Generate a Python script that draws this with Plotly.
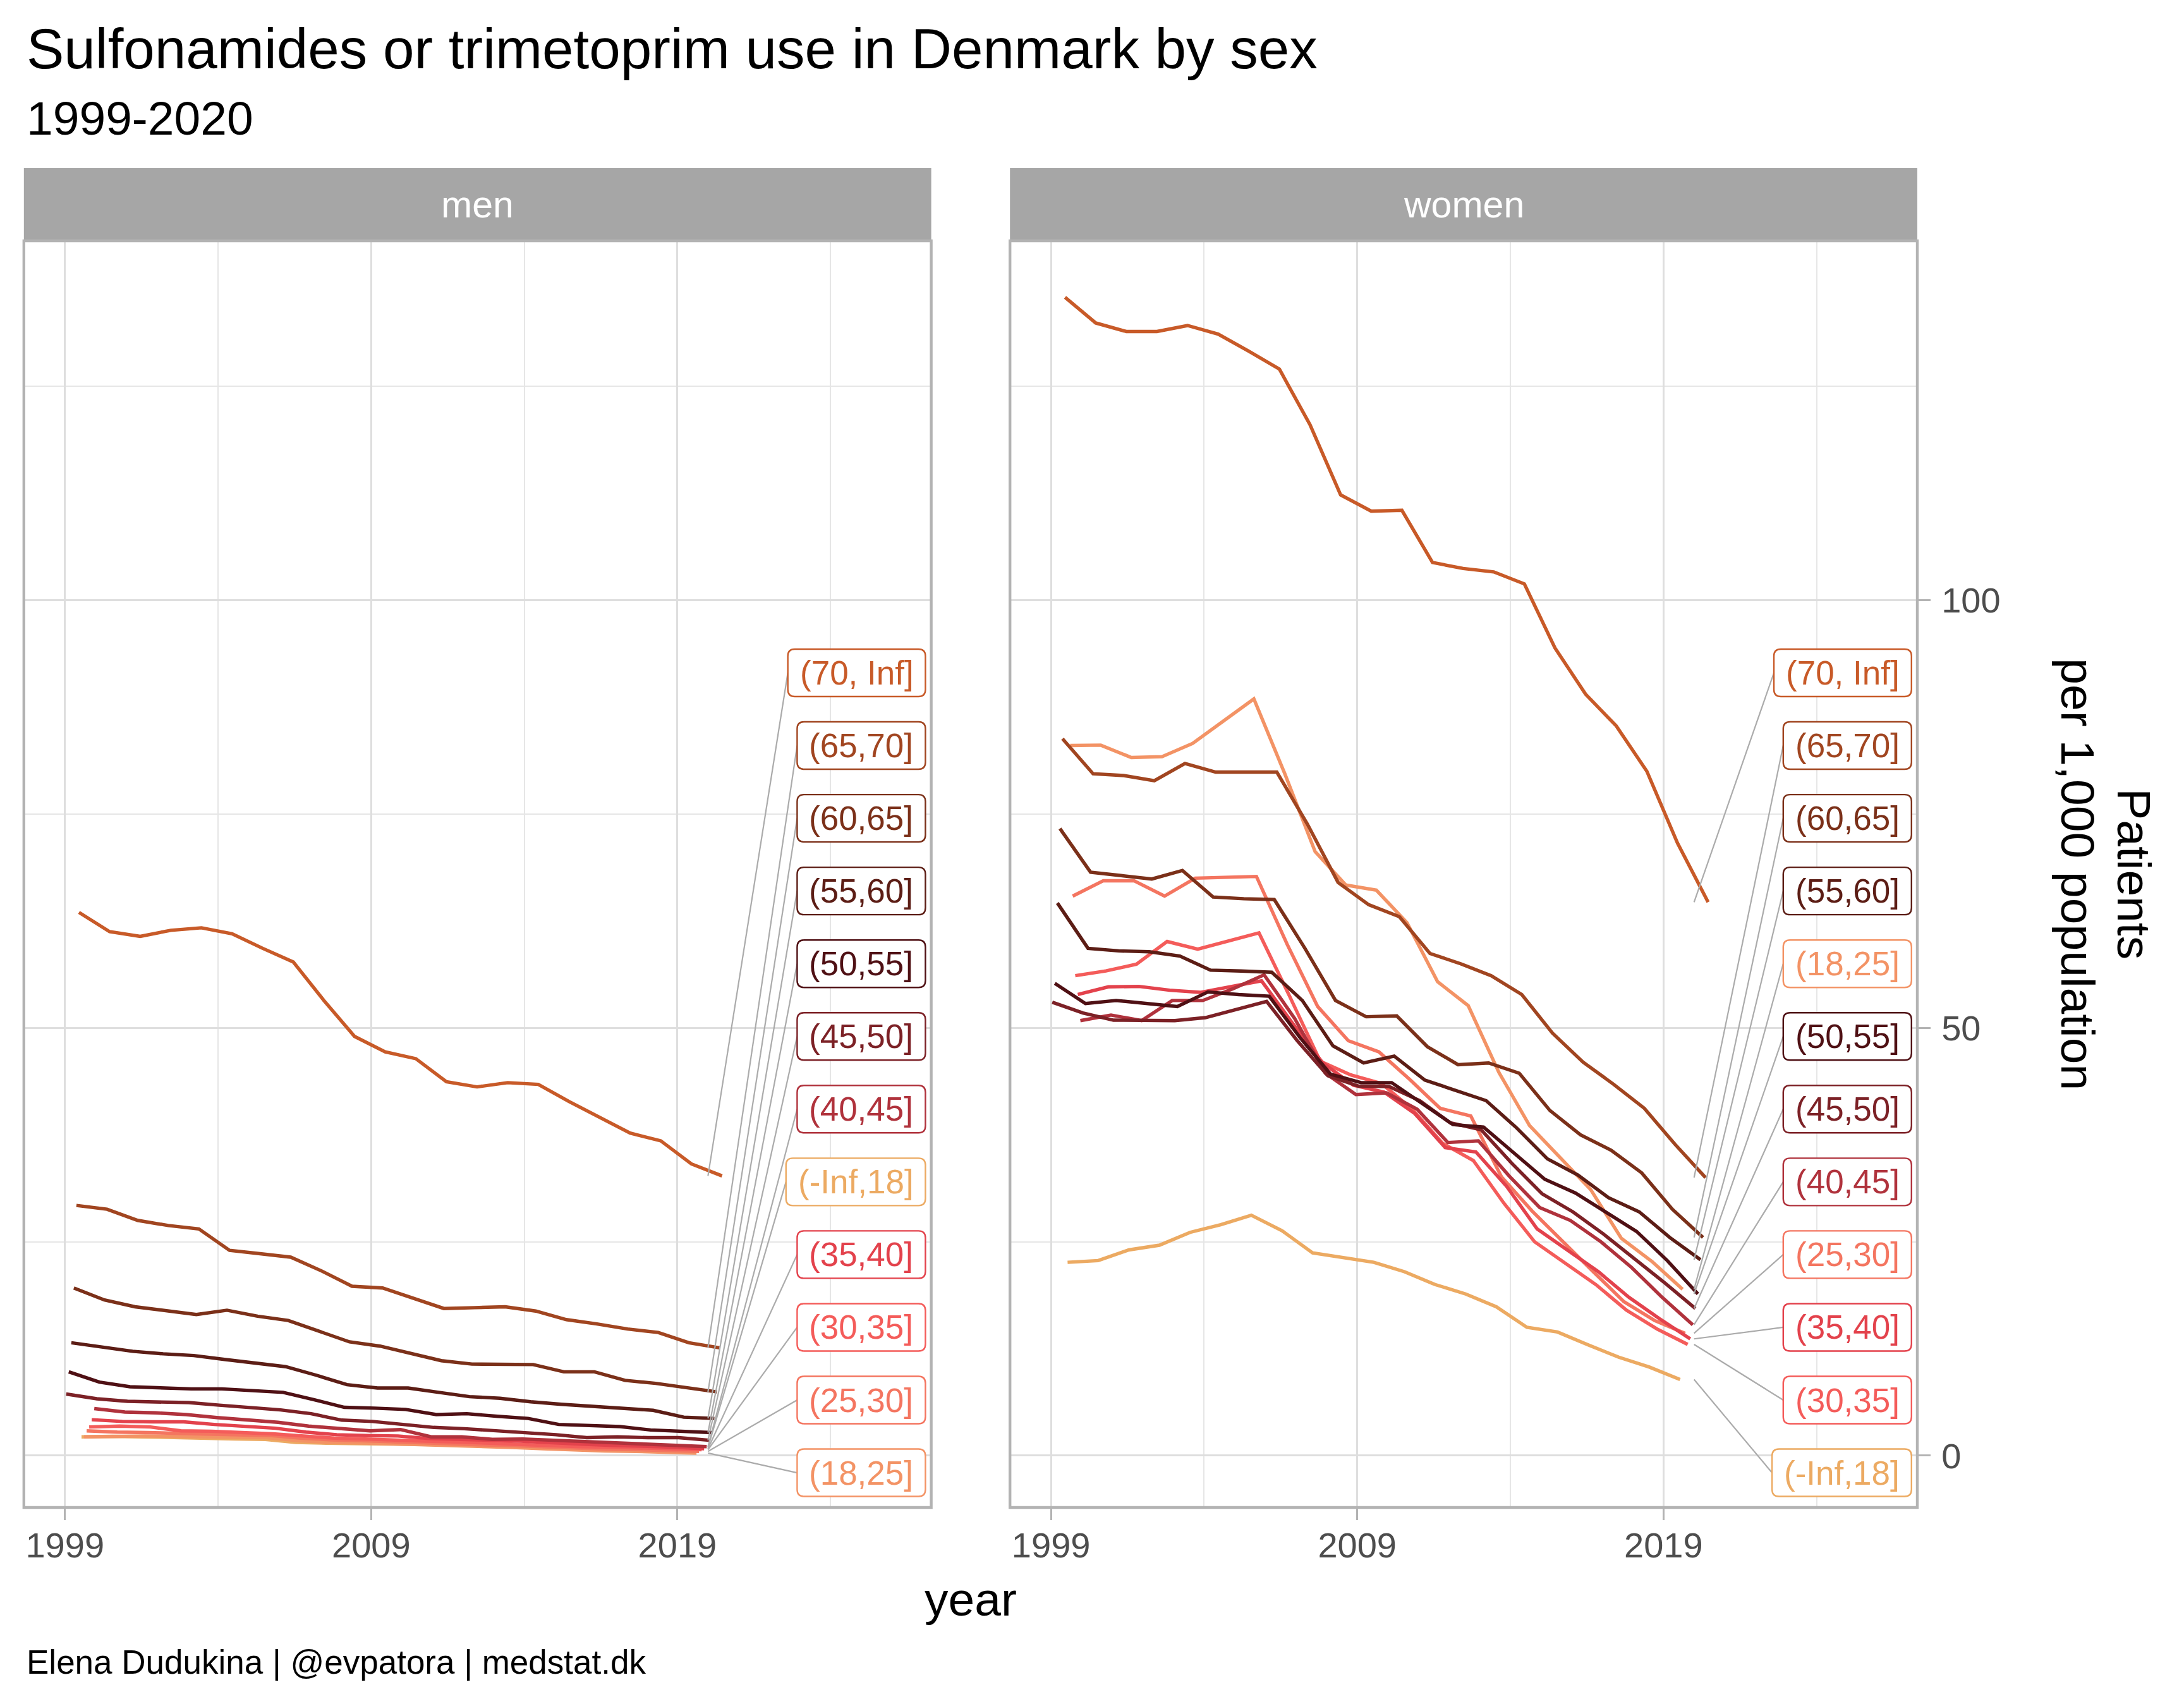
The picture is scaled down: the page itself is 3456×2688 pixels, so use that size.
import plotly.graph_objects as go

W, H = 3456, 2688

groups = ["(-Inf,18]", "(18,25]", "(25,30]", "(30,35]", "(35,40]", "(40,45]",
          "(45,50]", "(50,55]", "(55,60]", "(60,65]", "(65,70]", "(70, Inf]"]
colors = ["#ECAA62", "#F39365", "#F47560", "#F45C5A", "#E3424C", "#B0323C",
          "#7C2126", "#4F1014", "#5C1D15", "#7B3019", "#A14520", "#C85A28"]

years_all = list(range(1999, 2021))    # groups 45+
years_young = list(range(2000, 2021))  # groups under 45

men = {
    "(-Inf,18]": [2.2, 2.25, 2.2, 2.1, 2.0, 1.95, 1.9, 1.55, 1.45, 1.4, 1.35, 1.3, 1.25, 1.2, 1.15, 1.1, 1.05, 1.0, 1.0, 0.95, 0.95],
    "(18,25]": [2.2, 2.3, 2.3, 2.25, 2.2, 2.15, 2.1, 1.75, 1.55, 1.5, 1.4, 1.3, 1.2, 1.05, 0.95, 0.8, 0.65, 0.55, 0.5, 0.4, 0.3],
    "(25,30]": [2.9, 2.75, 2.7, 2.6, 2.55, 2.45, 2.35, 2.05, 1.85, 1.75, 1.6, 1.5, 1.4, 1.25, 1.15, 1.0, 0.85, 0.75, 0.7, 0.6, 0.5],
    "(30,35]": [3.35, 3.45, 3.35, 2.9, 2.85, 2.7, 2.55, 2.3, 2.05, 1.95, 1.8, 1.7, 1.6, 1.45, 1.35, 1.2, 1.05, 1.0, 0.9, 0.8, 0.7],
    "(35,40]": [4.2, 4.0, 3.95, 3.95, 3.65, 3.4, 3.2, 2.75, 2.45, 2.35, 2.3, 2.0, 1.95, 1.8, 1.7, 1.5, 1.35, 1.2, 1.1, 1.0, 0.8],
    "(40,45]": [5.5, 5.1, 5.0, 4.8, 4.45, 4.2, 3.9, 3.45, 3.15, 2.9, 3.05, 2.2, 2.2, 1.9, 1.95, 1.8, 1.65, 1.5, 1.4, 1.25, 1.05],
    "(45,50]": [7.2, 6.65, 6.35, 6.25, 6.2, 5.9, 5.6, 5.35, 4.9, 4.15, 4.0, 3.7, 3.3, 3.15, 2.95, 2.75, 2.45, 2.1, 2.2, 2.1, 2.1, 1.8],
    "(50,55]": [9.8, 8.6, 8.05, 7.9, 7.8, 7.8, 7.6, 7.4, 6.55, 5.65, 5.55, 5.4, 4.8, 4.9, 4.6, 4.35, 3.65, 3.5, 3.4, 3.0, 2.85, 2.7],
    "(55,60]": [13.2, 12.7, 12.2, 11.9, 11.7, 11.25, 10.8, 10.4, 9.4, 8.3, 7.9, 7.9, 7.4, 6.9, 6.7, 6.3, 6.0, 5.75, 5.6, 5.3, 4.5, 4.35],
    "(60,65]": [19.6, 18.2, 17.4, 16.9, 16.5, 17.0, 16.3, 15.8, 14.6, 13.3, 12.8, 11.9, 11.1, 10.7, 10.65, 10.65, 9.8, 9.8, 8.8, 8.45, 7.95, 7.45],
    "(65,70]": [29.25, 28.8, 27.5, 26.9, 26.5, 24.0, 23.6, 23.2, 21.6, 19.8, 19.6, 18.4, 17.2, 17.3, 17.4, 16.9, 15.9, 15.4, 14.8, 14.4, 13.2, 12.6],
    "(70, Inf]": [63.5, 61.25, 60.7, 61.4, 61.7, 61.0, 59.3, 57.7, 53.2, 49.0, 47.2, 46.4, 43.7, 43.1, 43.6, 43.4, 41.4, 39.5, 37.7, 36.8, 34.1, 32.7],
}

women = {
    "(-Inf,18]": [22.6, 22.8, 24.05, 24.6, 26.1, 27.0, 28.1, 26.3, 23.7, 23.2, 22.6, 21.5, 20.0, 18.9, 17.4, 15.0, 14.45, 12.95, 11.5, 10.35, 8.9],
    "(18,25]": [83.0, 83.05, 81.6, 81.7, 83.25, 85.9, 88.45, 79.8, 70.6, 66.7, 66.1, 62.3, 55.4, 52.6, 44.8, 38.6, 34.9, 31.1, 25.4, 22.7, 19.45],
    "(25,30]": [65.4, 67.2, 67.2, 65.4, 67.5, 67.6, 67.7, 59.8, 52.5, 48.5, 47.2, 44.0, 40.6, 39.7, 32.6, 28.6, 25.0, 21.5, 18.0, 15.8, 14.3],
    "(30,35]": [56.1, 56.65, 57.45, 60.1, 59.2, 60.1, 61.1, 53.7, 46.1, 44.5, 43.5, 40.5, 36.5, 34.5, 29.5, 25.0, 22.5, 20.0, 17.0, 14.8, 13.0],
    "(35,40]": [53.9, 54.8, 54.85, 54.4, 54.15, 54.85, 55.5, 50.6, 45.9, 43.3, 42.5, 40.0, 36.0, 35.5, 31.5, 26.5, 24.0, 21.5, 18.5, 16.0, 13.65],
    "(40,45]": [50.85, 51.5, 50.85, 53.2, 53.2, 54.6, 56.2, 51.1, 44.7, 42.2, 42.4, 40.5, 36.6, 36.8, 32.7, 29.0, 27.5, 25.0, 22.0, 18.5, 15.3],
    "(45,50]": [53.0, 51.75, 50.9, 50.9, 50.85, 51.2, 52.1, 53.1, 48.5, 44.4, 43.2, 43.15, 41.5, 38.9, 38.1, 34.2, 30.6, 28.5, 25.9, 23.1, 20.2, 17.2],
    "(50,55]": [55.2, 52.85, 53.2, 52.8, 52.5, 54.2, 53.9, 53.7, 48.9, 44.6, 43.6, 43.6, 41.2, 38.7, 38.4, 35.3, 32.3, 30.7, 28.5, 26.2, 22.8, 18.9],
    "(55,60]": [64.6, 59.3, 59.0, 58.9, 58.4, 56.75, 56.65, 56.5, 53.2, 47.9, 45.9, 46.7, 43.9, 42.7, 41.5, 38.3, 34.7, 32.8, 30.15, 28.5, 25.5, 22.9],
    "(60,65]": [73.3, 68.2, 67.8, 67.4, 68.4, 65.3, 65.1, 65.0, 59.3, 53.2, 51.3, 51.4, 47.8, 45.7, 45.9, 44.7, 40.35, 37.5, 35.7, 33.05, 28.8, 25.5],
    "(65,70]": [83.8, 79.7, 79.5, 78.9, 80.9, 79.9, 79.9, 79.9, 73.8, 67.0, 64.4, 63.0, 58.7, 57.5, 56.1, 53.9, 49.4, 46.0, 43.4, 40.6, 36.4, 32.5],
    "(70, Inf]": [135.4, 132.4, 131.4, 131.4, 132.1, 131.1, 129.1, 127.0, 120.5, 112.3, 110.4, 110.5, 104.4, 103.7, 103.3, 101.9, 94.4, 89.0, 85.3, 80.0, 71.6, 64.7],
}

panels = [("men", men), ("women", women)]
x_major = [1999, 2009, 2019]
x_minor = [2004, 2014, 2024]
y_major = [0, 50, 100]
y_minor = [25, 75, 125]

title = "Sulfonamides or trimetoprim use in Denmark by sex"
subtitle = "1999-2020"
caption = "Elena Dudukina | @evpatora | medstat.dk"
x_title = "year"
y_title_lines = ["Patients", "per 1,000 population"]

# ---------------- layout geometry ----------------
FONT = "Liberation Sans, Arial, Helvetica, sans-serif"
x_dom = [[0.01094, 0.42639], [0.46244, 0.87789]]
y_dom = [0.11272, 0.85826]
strip_top = 0.9010
x_range = [1997.66, 2027.29]
y_range = [-6.06, 142.0]
px_per_year = (x_dom[0][1] - x_dom[0][0]) * W / (x_range[1] - x_range[0])
px_per_unit = (y_dom[1] - y_dom[0]) * H / (y_range[1] - y_range[0])
n_groups = len(groups)

LABEL_FONT = 53
label_x_right = 2027.1
label_top, label_step = 91.5, 8.5
label_end_year = 2020
BOX_H = 75.0
BOX_R = 11.0

char_w = {"(": .333, ")": .333, "[": .278, "]": .278, ",": .278, " ": .278,
          "-": .333, "I": .278, "n": .556, "f": .278}


def text_width(s):
    return sum(char_w.get(c, .556) for c in s) * LABEL_FONT


def rounded_box(x0, x1, yc):
    """SVG path of a rounded rectangle in data coordinates."""
    rx = BOX_R / px_per_year
    ry = BOX_R / px_per_unit
    y0 = yc - BOX_H / 2 / px_per_unit
    y1 = yc + BOX_H / 2 / px_per_unit
    return (f"M {x0 + rx},{y0} L {x1 - rx},{y0} Q {x1},{y0} {x1},{y0 + ry} "
            f"L {x1},{y1 - ry} Q {x1},{y1} {x1 - rx},{y1} L {x0 + rx},{y1} "
            f"Q {x0},{y1} {x0},{y1 - ry} L {x0},{y0 + ry} Q {x0},{y0} {x0 + rx},{y0} Z")


fig = go.Figure()
shapes = []
annotations = []

for p, (pname, data) in enumerate(panels):
    xa = "x" if p == 0 else "x2"
    ya = "y" if p == 0 else "y2"
    for i, g in enumerate(groups):
        vals = data[g]
        yrs = years_all if len(vals) == len(years_all) else years_young
        dodge = -0.5 + (i + 0.5) / n_groups
        fig.add_trace(go.Scatter(
            x=[yr + dodge for yr in yrs], y=vals, mode="lines",
            line=dict(color=colors[i], width=5.4), xaxis=xa, yaxis=ya,
            showlegend=False, hoverinfo="skip"))

    # repelled labels ordered by final value
    order = sorted(range(n_groups), key=lambda k: -data[groups[k]][-1])
    for rank, k in enumerate(order):
        g = groups[k]
        ly = label_top - rank * label_step
        box_w = text_width(g) + 38
        left_x = label_x_right - box_w / px_per_year
        shapes.append(dict(type="line", xref=xa, yref=ya,
                           x0=label_end_year, y0=data[g][-1], x1=left_x, y1=ly,
                           line=dict(color="#ababab", width=2.2), layer="above"))
        shapes.append(dict(type="path", xref=xa, yref=ya,
                           path=rounded_box(left_x, label_x_right, ly),
                           fillcolor="white", line=dict(color=colors[k], width=2.4),
                           layer="above"))
        annotations.append(dict(
            x=(left_x + label_x_right) / 2, y=ly, xref=xa, yref=ya,
            xanchor="center", yanchor="middle", text=g, showarrow=False,
            font=dict(family=FONT, size=LABEL_FONT, color=colors[k])))

    # strip
    shapes.append(dict(type="rect", xref="paper", yref="paper",
                       x0=x_dom[p][0], x1=x_dom[p][1], y0=y_dom[1], y1=strip_top,
                       fillcolor="#a6a6a6", line=dict(width=0), layer="above"))
    annotations.append(dict(x=(x_dom[p][0] + x_dom[p][1]) / 2, y=(y_dom[1] + strip_top) / 2,
                            xref="paper", yref="paper", text=pname, showarrow=False,
                            xanchor="center", yanchor="middle",
                            font=dict(family=FONT, size=59, color="white")))
    # panel border
    shapes.append(dict(type="rect", xref="paper", yref="paper",
                       x0=x_dom[p][0], x1=x_dom[p][1], y0=y_dom[0], y1=y_dom[1],
                       line=dict(color="#b3b3b3", width=4.4), layer="above"))

axis_common = dict(showline=False, zeroline=False, showgrid=True,
                   gridcolor="#dedede", gridwidth=3.3, automargin=False,
                   tickfont=dict(family=FONT, size=56, color="#4d4d4d"))

for p in range(2):
    xkey = "xaxis" if p == 0 else "xaxis2"
    ykey = "yaxis" if p == 0 else "yaxis2"
    fig.layout[xkey] = dict(
        domain=x_dom[p], range=x_range, anchor="y" if p == 0 else "y2",
        tickmode="array", tickvals=x_major, ticktext=[str(v) for v in x_major],
        ticks="outside", ticklen=19, tickwidth=3.3, tickcolor="#b3b3b3",
        ticklabelstandoff=-8,
        minor=dict(tickmode="array", tickvals=x_minor, showgrid=True,
                   gridcolor="#e6e6e6", gridwidth=1.7, ticks=""),
        **axis_common)
    ydict = dict(
        domain=y_dom, range=y_range, anchor="x" if p == 0 else "x2",
        tickmode="array", tickvals=y_major, ticktext=[str(v) for v in y_major],
        minor=dict(tickmode="array", tickvals=y_minor, showgrid=True,
                   gridcolor="#e6e6e6", gridwidth=1.7, ticks=""),
        **axis_common)
    if p == 0:
        ydict.update(showticklabels=False, ticks="")
    else:
        ydict.update(side="right", ticks="outside", ticklen=20, tickwidth=3.3,
                     tickcolor="#b3b3b3", showticklabels=True, ticklabelstandoff=6)
    fig.layout[ykey] = ydict

ytitle_x = [0.9771, 0.9513]
annotations += [
    dict(x=0.0116, y=0.9712, xref="paper", yref="paper", xanchor="left", yanchor="middle",
         text=title, showarrow=False, font=dict(family=FONT, size=89, color="black")),
    dict(x=0.0116, y=0.9305, xref="paper", yref="paper", xanchor="left", yanchor="middle",
         text=subtitle, showarrow=False, font=dict(family=FONT, size=75, color="black")),
    dict(x=0.0116, y=0.0216, xref="paper", yref="paper", xanchor="left", yanchor="middle",
         text=caption, showarrow=False, font=dict(family=FONT, size=53, color="black")),
    dict(x=(x_dom[0][0] + x_dom[1][1]) / 2, y=0.0588, xref="paper", yref="paper",
         xanchor="center", yanchor="middle", text=x_title, showarrow=False,
         font=dict(family=FONT, size=75, color="black")),
]
for tx, line in zip(ytitle_x, y_title_lines):
    annotations.append(dict(x=tx, y=(y_dom[0] + y_dom[1]) / 2, xref="paper", yref="paper",
                            xanchor="center", yanchor="middle", text=line, showarrow=False,
                            textangle=90, font=dict(family=FONT, size=75, color="black")))

fig.update_layout(width=W, height=H, margin=dict(l=0, r=0, t=0, b=0),
                  paper_bgcolor="white", plot_bgcolor="white",
                  shapes=shapes, annotations=annotations, showlegend=False)

fig.write_html("out.html", config={"displayModeBar": False},
               post_script="document.body.style.margin='0';")
